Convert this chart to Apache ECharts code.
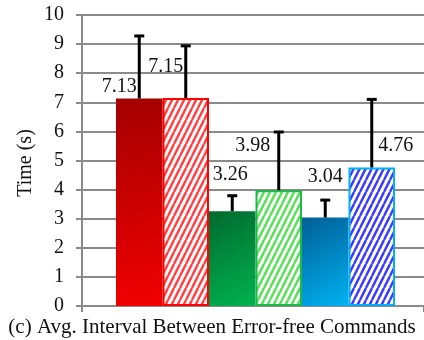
<!DOCTYPE html>
<html>
<head>
<meta charset="utf-8">
<script src="https://cdn.jsdelivr.net/npm/echarts@6/dist/echarts.min.js"></script>
<style>html,body{margin:0;padding:0;background:#fff}#c{width:424px;height:340px}</style>
</head>
<body>
<div id="c"></div>
<script>
const categories = ['Red solid', 'Red hatched', 'Green solid', 'Green hatched', 'Blue solid', 'Blue hatched'];
const values = [7.13, 7.15, 3.26, 3.98, 3.04, 4.76];
const errors = [2.15, 1.79, 0.53, 2.00, 0.60, 2.34];
const yMin = 0, yMax = 10, yStep = 1;
const yName = 'Time (s)';
const caption = '(c) Avg. Interval Between Error-free Commands';

// styling (not data)
const labelOffsets = [[-20, -2], [-20, -21], [-2, -26], [-26, -34], [0, -31], [24, -12]];
const FONT = '"Liberation Serif", "Times New Roman", serif';

function hatch(color) {
  const c = document.createElement('canvas');
  c.width = 6; c.height = 12;
  const g = c.getContext('2d');
  g.fillStyle = '#ffffff'; g.fillRect(0, 0, 6, 12);
  g.strokeStyle = color; g.lineWidth = 2.4;
  for (const dx of [-6, 0, 6]) { g.beginPath(); g.moveTo(dx, 12); g.lineTo(dx + 6, 0); g.stroke(); }
  return c;
}
function grad(a, b) {
  return new echarts.graphic.LinearGradient(0, 0, 1, 1, [{offset: 0, color: a}, {offset: 1, color: b}]);
}
const styles = [
  {color: grad('#a30000', '#f20000')},
  {color: {image: hatch('#ff4040'), repeat: 'repeat'}, borderColor: '#ff0000', borderWidth: 2},
  {color: grad('#006a2e', '#00b350')},
  {color: {image: hatch('#55e055'), repeat: 'repeat'}, borderColor: '#1fb84a', borderWidth: 2},
  {color: grad('#005f95', '#00b2f2')},
  {color: {image: hatch('#3a3aff'), repeat: 'repeat'}, borderColor: '#00b0f0', borderWidth: 2}
];

const chart = echarts.init(document.getElementById('c'), null, {renderer: 'canvas'});
chart.setOption({
  animation: false,
  title: {text: caption, left: 'center', bottom: -3,
    textStyle: {fontFamily: FONT, fontSize: 21, fontWeight: 'normal', color: '#111'}},
  graphic: [{type: 'text', x: 26, y: 163, rotation: Math.PI / 2,
    style: {text: yName, align: 'center', verticalAlign: 'middle',
      font: '20px "Liberation Serif", "Times New Roman", serif', fill: '#111'}}],
  grid: [
    {left: 82, right: -2, top: 15, bottom: 34},
    {left: 116, right: 29, top: 15, bottom: 34}
  ],
  xAxis: [
    {gridIndex: 0, type: 'category', data: [''], boundaryGap: true,
      axisLine: {lineStyle: {color: '#8a8a8a', width: 2}},
      axisTick: {show: true, length: 6, lineStyle: {color: '#8a8a8a', width: 2}},
      axisLabel: {show: false}},
    {gridIndex: 1, type: 'category', data: categories, show: false}
  ],
  yAxis: [
    {gridIndex: 0, type: 'value', min: yMin, max: yMax, interval: yStep,
      axisLine: {show: true, lineStyle: {color: '#8a8a8a', width: 2}},
      axisTick: {show: true, length: 6, lineStyle: {color: '#8a8a8a', width: 2}},
      axisLabel: {fontFamily: FONT, fontSize: 20, color: '#111', margin: 18},
      splitLine: {lineStyle: {color: '#8a8a8a', width: 2}}},
    {gridIndex: 1, type: 'value', min: yMin, max: yMax, interval: yStep, show: false, splitLine: {show: false}}
  ],
  series: [
    {type: 'bar', xAxisIndex: 1, yAxisIndex: 1, barCategoryGap: '0%',
      data: values.map((v, i) => ({value: v, itemStyle: styles[i],
        label: {show: true, position: 'top', distance: 0, offset: labelOffsets[i],
          formatter: v.toFixed(2), fontFamily: FONT, fontSize: 20, color: '#111'}})),
      z: 2},
    {type: 'custom', xAxisIndex: 1, yAxisIndex: 1, z: 5,
      data: values.map((v, i) => [i, v, v + errors[i]]),
      renderItem: function (params, api) {
        const base = api.coord([api.value(0), api.value(1)]);
        const top = api.coord([api.value(0), api.value(2)]);
        const s = {stroke: '#000', lineWidth: 3};
        return {type: 'group', children: [
          {type: 'line', shape: {x1: base[0], y1: base[1], x2: top[0], y2: top[1]}, style: s},
          {type: 'line', shape: {x1: top[0] - 5, y1: top[1], x2: top[0] + 5, y2: top[1]}, style: s}
        ]};
      }}
  ]
});
</script>
</body>
</html>
